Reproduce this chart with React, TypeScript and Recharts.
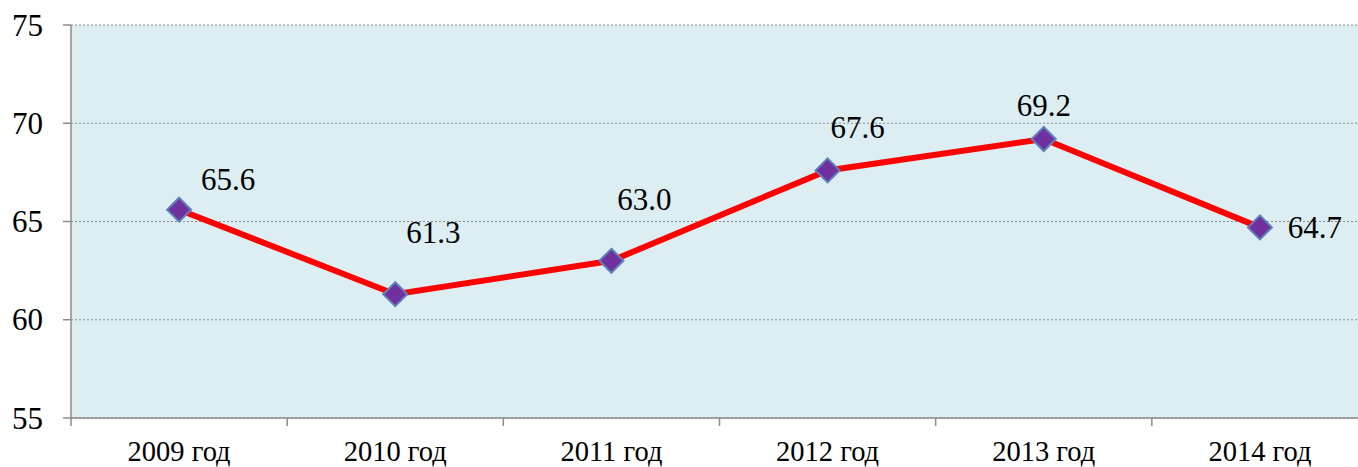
import React from "react";
import { LineChart, Line, XAxis, YAxis, CartesianGrid, LabelList } from "recharts";

const categories = ["2009 год", "2010 год", "2011 год", "2012 год", "2013 год", "2014 год"];
const values = [65.6, 61.3, 63.0, 67.6, 69.2, 64.7];
const yTicks = [55, 60, 65, 70, 75];

// label offsets (dx, dy) relative to each point
const labelOffsets: [number, number][] = [
  [49, -30],
  [38, -62],
  [33, -61],
  [30, -43],
  [0, -33],
  [55, 0],
];

const data = categories.map((c, i) => ({ year: c, value: values[i] }));

const FONT = "'Liberation Serif', 'Times New Roman', serif";
const AXIS = "#8c8c8c";
const X_MARGIN = 14;

const Diamond = (props: any) => {
  const { cx, cy } = props;
  if (cx == null || cy == null) return null;
  const r = 12;
  return (
    <polygon
      points={`${cx},${cy - r} ${cx + r},${cy} ${cx},${cy + r} ${cx - r},${cy}`}
      fill="#7030A0"
      stroke="#5F80B8"
      strokeWidth={2}
    />
  );
};

const ValueLabel = (props: any) => {
  const { x, y, index, value } = props;
  const [dx, dy] = labelOffsets[index] || [0, 0];
  return (
    <text
      x={x + dx}
      y={y + dy}
      textAnchor="middle"
      dominantBaseline="central"
      style={{ fontFamily: FONT, fontSize: 31 }}
      fill="#000"
    >
      {Number(value).toFixed(1)}
    </text>
  );
};

const XTick = (props: any) => {
  const { x, y, payload, index, visibleTicksCount } = props;
  const half = payload && typeof payload.offset === "number" ? payload.offset : 0;
  const axisY = y - X_MARGIN;
  const last = index === (visibleTicksCount ?? categories.length) - 1;
  return (
    <g>
      {half > 0 && (
        <line x1={x - half} x2={x - half} y1={axisY} y2={axisY + 8} stroke={AXIS} strokeWidth={1.5} />
      )}
      {half > 0 && last && (
        <line x1={x + half} x2={x + half} y1={axisY} y2={axisY + 8} stroke={AXIS} strokeWidth={1.5} />
      )}
      <text x={x} y={y} dy={29} textAnchor="middle" style={{ fontFamily: FONT, fontSize: 28.5 }} fill="#000">
        {payload.value}
      </text>
    </g>
  );
};

const YTick = (props: any) => {
  const { x, y, payload } = props;
  return (
    <text x={x} y={y} textAnchor="end" dominantBaseline="central" style={{ fontFamily: FONT, fontSize: 31 }} fill="#000">
      {payload.value}
    </text>
  );
};

export default function App() {
  return (
    <div style={{ position: "absolute", left: 0, top: 0, width: 1358, height: 467, overflow: "hidden", background: "#fff" }}>
      <LineChart width={1368} height={467} data={data} margin={{ top: 25, right: 0, left: 0, bottom: 0 }}>
        <CartesianGrid
          vertical={false}
          fill="#DDEEF3"
          fillOpacity={1}
          stroke="#8a8a8a"
          strokeDasharray="2 2"
          horizontalValues={yTicks}
        />
        <XAxis
          dataKey="year"
          scale="band"
          height={49}
          tickLine={false}
          tickSize={0}
          axisLine={{ stroke: AXIS, strokeWidth: 1.5 }}
          tickMargin={X_MARGIN}
          tick={<XTick />}
          interval={0}
        />
        <YAxis
          domain={[55, 75]}
          ticks={yTicks}
          width={71}
          axisLine={{ stroke: AXIS, strokeWidth: 1.5 }}
          tickLine={{ stroke: AXIS, strokeWidth: 1.5 }}
          tickSize={8}
          tickMargin={20}
          tick={<YTick />}
        />
        <Line
          type="linear"
          dataKey="value"
          stroke="#FF0000"
          strokeWidth={6}
          dot={<Diamond />}
          activeDot={false}
          isAnimationActive={false}
        >
          <LabelList dataKey="value" content={<ValueLabel />} />
        </Line>
      </LineChart>
    </div>
  );
}
